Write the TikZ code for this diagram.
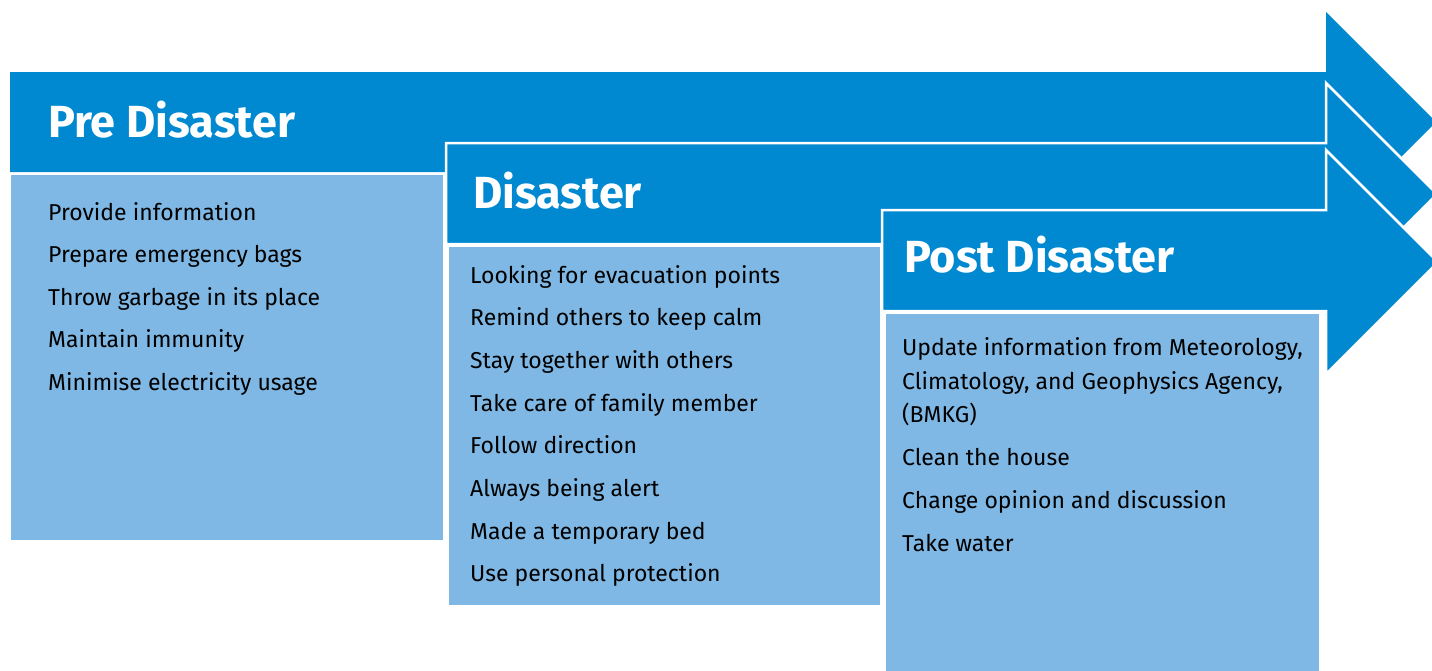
\documentclass[tikz,border=0pt]{standalone}
\usepackage{fontspec}
\setmainfont{Fira Sans}
\usetikzlibrary{positioning}
\definecolor{phaseblue}{RGB}{0,137,209}
\definecolor{panelblue}{RGB}{127,184,228}

\begin{document}
\begin{tikzpicture}[x=1pt, y=-1pt,
  phase/.style = {fill=phaseblue, draw=white, line width=2.5pt, line join=miter},
  panel/.style = {fill=panelblue, draw=white, line width=1pt},
   head/.style = {anchor=base west, inner sep=0pt, text=white,
                  font=\fontsize{45}{45}\bfseries\selectfont},
   item/.style = {anchor=base west, inner sep=0pt,
                  font=\fontsize{23}{23}\selectfont}
                   ]
	\clip (0,0) rectangle (1432,670);

	% the three phase arrows
	\filldraw[phase, draw=none] (10,72) -- (1326,72) -- (1326,12) -- (1436,122)
	    -- (1326,232) -- (1326,172) -- (10,172) -- cycle;
	\filldraw[phase] (446,143) -- (1326,143) -- (1326,83) -- (1437,194)
	    -- (1326,305) -- (1326,244) -- (446,244) -- cycle;
	\filldraw[phase] (882,210) -- (1326,210) -- (1326,150) -- (1438,262)
	    -- (1326,374) -- (1326,311) -- (882,311) -- cycle;

	% panels below each arrow
	\filldraw[panel] (10,174)  rectangle (443,540);
	\filldraw[panel] (448,246) rectangle (880,605);
	\filldraw[panel] (885,313) rectangle (1319,675);

	\node[head] (pre)  at (48,137)  {Pre Disaster};
	\node[head] (dis)  at (473,208) {Disaster};
	\node[head] (post) at (904,272) {Post Disaster};

	\foreach \t [count=\i] in {Provide information, Prepare emergency bags,
	    Throw garbage in its place, Maintain immunity, Minimise electricity usage}
	  \node[item] (pre\i) at (48, {220+42.6*(\i-1)}) {\t};

	\foreach \t [count=\i] in {Looking for evacuation points, Remind others to keep calm,
	    Stay together with others, Take care of family member, Follow direction,
	    Always being alert, Made a temporary bed, Use personal protection}
	  \node[item] (dis\i) at (470, {283+42.7*(\i-1)}) {\t};

	\foreach \y/\t [count=\i] in {355/{Update information from Meteorology,},
	    389/{Climatology, and Geophysics Agency,}, 422/{(BMKG)},
	    465/{Clean the house}, 508/{Change opinion and discussion}, 551/{Take water}}
	  \node[item] (post\i) at (902,\y) {\t};
\end{tikzpicture}
\end{document}
